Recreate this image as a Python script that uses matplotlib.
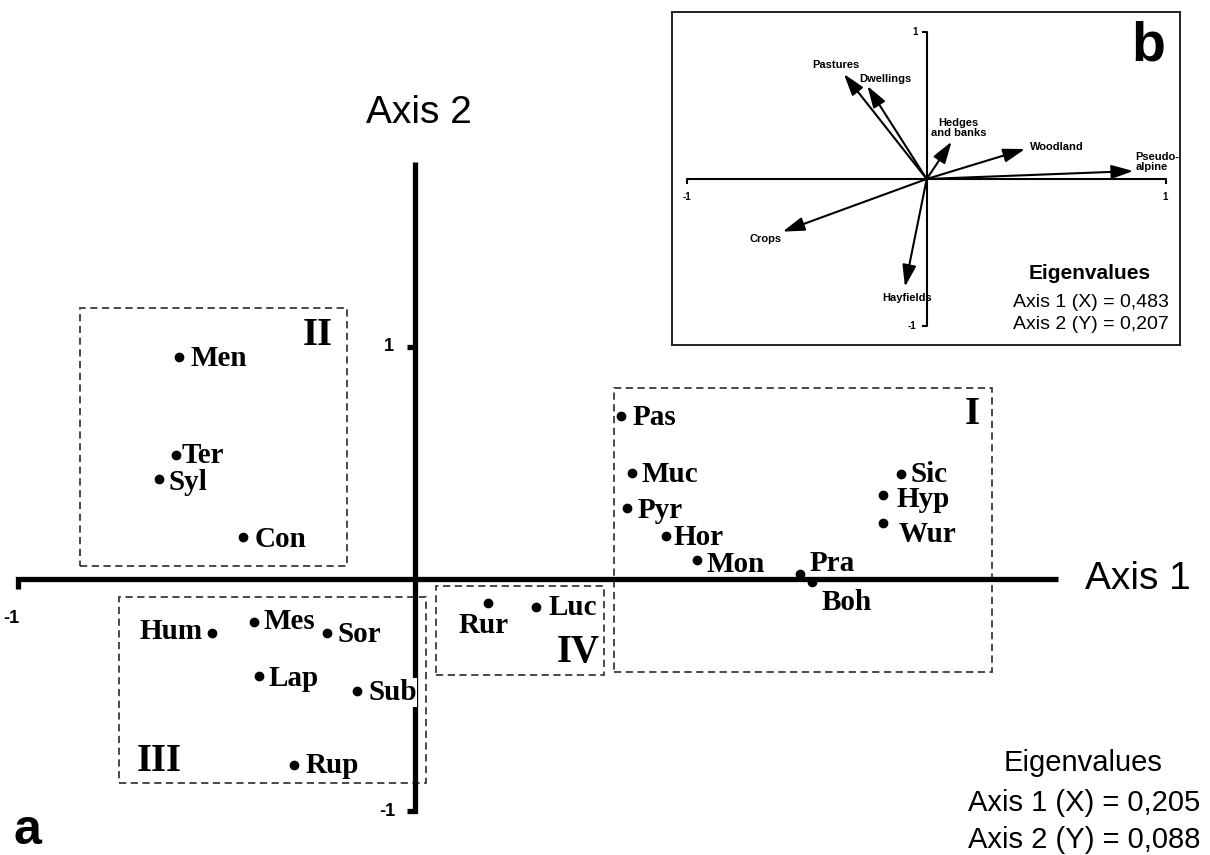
import matplotlib.pyplot as plt
from matplotlib.patches import Rectangle

# ---- panel a: site scores on CA axes 1 and 2 ----
sites = ["Men", "Ter", "Syl", "Con", "Pas", "Muc", "Pyr", "Hor", "Mon", "Pra", "Boh",
         "Sic", "Hyp", "Wur", "Hum", "Mes", "Sor", "Lap", "Sub", "Rup", "Rur", "Luc"]
axis1 = [-0.594, -0.602, -0.645, -0.433, 0.519, 0.547, 0.534, 0.632, 0.710, 0.970, 1.000,
         1.224, 1.179, 1.179, -0.511, -0.406, -0.222, -0.393, -0.146, -0.305, 0.184, 0.305]
axis2 = [0.957, 0.534, 0.431, 0.181, 0.703, 0.457, 0.306, 0.185, 0.082, 0.022, -0.013,
         0.453, 0.362, 0.241, -0.233, -0.185, -0.233, -0.418, -0.483, -0.802, -0.103, -0.121]

# groups (dashed boxes): x0, x1, y0, y1
groups = ["I", "II", "III", "IV"]
grp_x0 = [0.501, -0.844, -0.746, 0.053]
grp_x1 = [1.453, -0.171, 0.028, 0.476]
grp_y0 = [-0.401, 0.056, -0.879, -0.414]
grp_y1 = [0.823, 1.168, -0.078, -0.030]

eig_a = ["0,205", "0,088"]

# ---- panel b: variable arrows ----
variables = ["Pastures", "Dwellings", "Hedges\nand banks", "Woodland", "Pseudo-\nalpine",
             "Crops", "Hayfields"]
var_x = [-0.346, -0.248, 0.104, 0.411, 0.863, -0.602, -0.091]
var_y = [0.714, 0.633, 0.254, 0.204, 0.054, -0.358, -0.733]
eig_b = ["0,483", "0,207"]

# label placement (pixels from the dot, text baseline)
site_off = {"Men": (11, -9), "Ter": (6, -8), "Syl": (10, -11), "Con": (12, -10),
            "Pas": (12, -9), "Muc": (9, -9), "Pyr": (11, -10), "Hor": (8, -9),
            "Mon": (10, -12), "Pra": (9, 3), "Boh": (10, -28), "Sic": (10, -8),
            "Hyp": (13, -12), "Wur": (16, -19), "Hum": (-10, -6), "Mes": (10, -7),
            "Sor": (11, -9), "Lap": (10, -10), "Sub": (11, -9), "Rup": (12, -8),
            "Rur": (-4, -30), "Luc": (12, -8)}
site_ha = {"Hum": "right", "Rur": "center"}
var_off = [(-8, 9), (18, 7), (7, 14), (5, 2), (2, 9), (-17, -7), (2, -11)]
var_ha = ["center", "center", "center", "left", "left", "center", "center"]

serif = "Liberation Serif"
sans = "Liberation Sans"

fig = plt.figure(figsize=(12.1, 8.55), dpi=100)
ax = fig.add_axes([0, 0, 1, 1])
# map so that 1 unit on axis 1 = 397 px, on axis 2 = 232 px
ax.set_xlim(-415 / 397, 795 / 397)
ax.set_ylim(-276 / 232, 579 / 232)
ax.axis("off")

tx = 10 / 397
ty = 10 / 232
ax.plot([-1, -1, 1.62], [-ty, 0, 0], color="black", lw=3.8, solid_joinstyle="miter",
        solid_capstyle="butt", zorder=2)
ax.plot([0, 0, -0.8 * tx], [1.797, -1.0, -1.0], color="black", lw=3.8,
        solid_joinstyle="miter", solid_capstyle="butt", zorder=2)
ax.plot([-0.8 * tx, 0], [1, 1], color="black", lw=3.8, solid_capstyle="butt", zorder=2)

ax.text(-1.018, -0.17, "-1", fontsize=13, fontweight="bold", family=sans,
        ha="center", va="center")
ax.text(-0.065, 1.0, "1", fontsize=13, fontweight="bold", family=sans,
        ha="center", va="center")
ax.text(-0.07, -1.0, "-1", fontsize=13, fontweight="bold", family=sans,
        ha="center", va="center")

ax.text(0.01, 2.01, "Axis 2", fontsize=28, family=sans, ha="center", va="center")
ax.text(1.82, 0.0, "Axis 1", fontsize=28, family=sans, ha="center", va="center")
ax.text(-0.975, -1.085, "a", fontsize=36, fontweight="bold", family=sans,
        ha="center", va="center")

for i, g in enumerate(groups):
    ax.add_patch(Rectangle((grp_x0[i], grp_y0[i]), grp_x1[i] - grp_x0[i],
                           grp_y1[i] - grp_y0[i], fill=False, ec="#3a3a3a", lw=1.3,
                           ls=(0, (4, 2.5)), zorder=1))

num_pos = {"I": ("tr", -12, -36), "II": ("tr", -14, -37),
           "III": ("bl", 18, 12), "IV": ("br", -4, 13)}
for i, g in enumerate(groups):
    corner, dx, dy = num_pos[g]
    px = grp_x0[i] if corner[1] == "l" else grp_x1[i]
    py = grp_y1[i] if corner[0] == "t" else grp_y0[i]
    ax.annotate(g, (px, py), xytext=(dx, dy), textcoords="offset pixels",
                ha="left" if corner[1] == "l" else "right", va="baseline",
                fontsize=28, fontweight="bold", family=serif)

ax.plot(axis1, axis2, "o", color="black", ms=6, zorder=4)
for name, x, y in zip(sites, axis1, axis2):
    dx, dy = site_off[name]
    bb = dict(fc="white", ec="none", pad=0.5) if name == "Sub" else None
    ax.annotate(name, (x, y), xytext=(dx, dy), textcoords="offset pixels",
                ha=site_ha.get(name, "left"), va="baseline", fontsize=21,
                fontweight="bold", family=serif, bbox=bb, zorder=3)

ax.text(1083 / 397 - 415 / 397, (579 - 763) / 232, "Eigenvalues", fontsize=21,
        family=sans, ha="center", va="center")
ax.text(1084 / 397 - 415 / 397, (579 - 803) / 232, "Axis 1 (X) = " + eig_a[0],
        fontsize=21, family=sans, ha="center", va="center")
ax.text(1084 / 397 - 415 / 397, (579 - 840) / 232, "Axis 2 (Y) = " + eig_a[1],
        fontsize=21, family=sans, ha="center", va="center")

# ---- inset b ----
bx = fig.add_axes([672 / 1210, 1 - 345 / 855, 508 / 1210, 333 / 855])
bx.set_xlim((672 - 926.7) / 239.3, (1180 - 926.7) / 239.3)
bx.set_ylim((179 - 345) / 147, (179 - 12) / 147)
bx.set_xticks([])
bx.set_yticks([])
for s in bx.spines.values():
    s.set_linewidth(1.4)
    s.set_color("#222222")

bx.plot([-1, -1, 1, 1], [-0.03, 0, 0, -0.03], color="black", lw=1.5)
bx.plot([-0.015, 0, 0, -0.015], [1, 1, -1, -1], color="black", lw=1.5)
for t, x, y in [("-1", -1.0, -0.12), ("1", 0.996, -0.12), ("1", -0.05, 1.0),
                ("-1", -0.06, -1.0)]:
    bx.text(x, y, t, fontsize=7, fontweight="bold", family=sans, ha="center", va="center")

for i, v in enumerate(variables):
    bx.annotate("", xy=(var_x[i], var_y[i]), xytext=(0, 0),
                arrowprops=dict(arrowstyle="-|>,head_length=1.1,head_width=0.35",
                                mutation_scale=12, lw=1.5, color="black",
                                shrinkA=0, shrinkB=0))
    bx.annotate(v, (var_x[i], var_y[i]), xytext=var_off[i], textcoords="offset pixels",
                ha=var_ha[i], va="center", fontsize=8, fontweight="bold", family=sans,
                multialignment="center" if var_ha[i] == "center" else "left",
                linespacing=1.0)

bx.text(0.925, 0.90, "b", fontsize=40, fontweight="bold", family=sans,
        ha="center", va="center")
bx.text(0.683, -0.646, "Eigenvalues", fontsize=15, fontweight="bold", family=sans,
        ha="center", va="center")
bx.text(1.013, -0.837, "Axis 1 (X) = " + eig_b[0], fontsize=14, family=sans,
        ha="right", va="center")
bx.text(1.013, -0.993, "Axis 2 (Y) = " + eig_b[1], fontsize=14, family=sans,
        ha="right", va="center")

fig.savefig("out.png", dpi=100)
